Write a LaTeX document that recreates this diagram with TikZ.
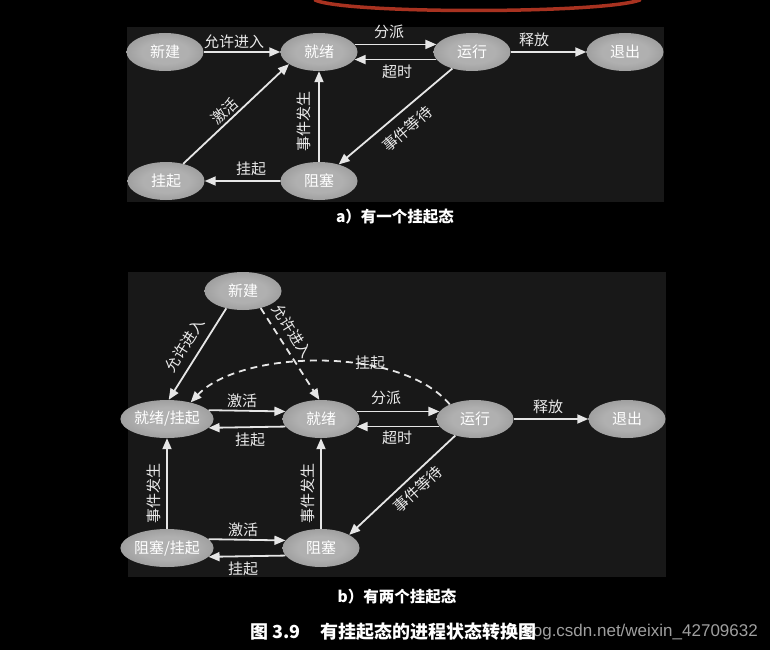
\documentclass[tikz,border=0pt]{standalone}
\usepackage{fontspec}
\newfontfamily\cjk{Noto Sans CJK SC}
\newfontfamily\wmfont{Liberation Sans}
\usetikzlibrary{shapes.geometric,arrows.meta}
\definecolor{shc}{HTML}{B0B0B0}
\definecolor{shm}{HTML}{8E8E8E}
\definecolor{she}{HTML}{3A3A3A}
\definecolor{linecol}{HTML}{E6E6E6}
\definecolor{labcol}{HTML}{EAEAEA}
\definecolor{panelcol}{HTML}{181818}
\definecolor{redmark}{HTML}{A83220}
\pgfdeclareradialshading{nodeshade}{\pgfpoint{0bp}{0bp}}{color(0bp)=(shc); color(15bp)=(shc); color(36bp)=(shm); color(50bp)=(she); color(60bp)=(she)}
\tikzset{
  st/.style={ellipse, minimum width=77pt, minimum height=38pt, inner sep=0pt, shade, shading=nodeshade, text=white, font=\cjk\fontsize{15}{15}\selectfont},
  tr/.style={draw=linecol, line width=1.8pt, -{Triangle[length=11pt,width=9pt]}},
  lb/.style={text=labcol, font=\cjk\fontsize{15}{15}\selectfont, inner sep=0pt},
  captext/.style={text=white, font=\cjk\bfseries\fontsize{15.5}{15.5}\selectfont, inner sep=0pt},
  dsh/.style={dash pattern=on 7pt off 5pt}
}
\begin{document}
\begin{tikzpicture}[x=1pt,y=-1pt]
\fill[black] (0,0) rectangle (770,650);
\useasboundingbox (0,0) rectangle (770,650);
% red hand-drawn mark at the top
\draw[redmark, line width=3.5pt, line cap=round] (315,0) .. controls (345,14) and (600,14) .. (640,0);
% panel backgrounds
\fill[panelcol] (127,27) rectangle (664,202);
\fill[panelcol] (128,272) rectangle (666,577);

% ---------- panel a ----------
\node[st] (a1) at (165,52) {新建};
\node[st] (a2) at (319,52) {就绪};
\node[st] (a3) at (472,52) {运行};
\node[st] (a4) at (625,52) {退出};
\node[st] (a5) at (166,181) {挂起};
\node[st] (a6) at (319,181) {阻塞};

\draw[tr] (a1) -- (a2);
\draw[tr] (a2.12) -- (a3.168);
\draw[tr] (a3.192) -- (a2.-12);
\draw[tr] (a3) -- (a4);
\draw[tr] (a3.220) -- (a6.40);
\draw[tr] (a6) -- (a2);
\draw[tr] (a6) -- (a5);
\draw[tr] (a5.45) -- (a2.202);

\node[lb] (la1) at (234,42) {允许进入};
\node[lb] (la2) at (389,32) {分派};
\node[lb] (la3) at (397,72) {超时};
\node[lb] (la4) at (534,40) {释放};
\node[lb, rotate=43] (la5) at (225,111) {激活};
\node[lb, rotate=90] (la6) at (304,121) {事件发生};
\node[lb, rotate=41] (la7) at (407,129) {事件等待};
\node[lb] (la8) at (251,169) {挂起};

\node[captext] (capa) at (395,217) {a）有一个挂起态};

% ---------- panel b ----------
\node[st] (b1) at (243,291) {新建};
\node[st] (b2) at (167,419) {就绪/挂起};
\node[st] (b3) at (321,419) {就绪};
\node[st] (b4) at (475,419) {运行};
\node[st] (b5) at (627,419) {退出};
\node[st] (b6) at (167,548) {阻塞/挂起};
\node[st] (b7) at (321,548) {阻塞};

\draw[tr] (b1.226) -- (b2.85);
\draw[tr,dsh] (b1.-44) -- (b3.95);
\draw[tr,dsh] (b4.150) .. controls (400,345) and (240,350) .. (b2.35);
\draw[tr] (b2.12) -- (b3.168);
\draw[tr] (b3.192) -- (b2.-12);
\draw[tr] (b3.12) -- (b4.168);
\draw[tr] (b4.192) -- (b3.-12);
\draw[tr] (b4) -- (b5);
\draw[tr] (b4.220) -- (b7.25);
\draw[tr] (b6) -- (b2);
\draw[tr] (b7) -- (b3);
\draw[tr] (b6.12) -- (b7.168);
\draw[tr] (b7.192) -- (b6.-12);

\node[lb, rotate=58] (lb1) at (185,345) {允许进入};
\node[lb, rotate=-58] (lb2) at (292,331) {允许进入};
\node[lb] (lb3) at (370,363) {挂起};
\node[lb] (lb4) at (242,401) {激活};
\node[lb] (lb5) at (250,440) {挂起};
\node[lb] (lb6) at (386,398) {分派};
\node[lb] (lb7) at (397,438) {超时};
\node[lb] (lb8) at (548,407) {释放};
\node[lb, rotate=42] (lb9) at (418,489) {事件等待};
\node[lb, rotate=90] (lb10) at (154,493) {事件发生};
\node[lb, rotate=90] (lb11) at (308,493) {事件发生};
\node[lb] (lb12) at (243,530) {激活};
\node[lb] (lb13) at (243,569) {挂起};

\node[captext] (capb) at (397,597) {b）有两个挂起态};

% ---------- figure caption and watermark ----------
\node[text=gray!75, font=\wmfont\fontsize{17}{17}\selectfont, inner sep=0pt, anchor=east] (wm) at (758,632) {blog.csdn.net/weixin\_42709632};
\node[text=white, font=\cjk\bfseries\fontsize{18}{18}\selectfont, inner sep=0pt, anchor=west] (capm) at (250,632) {图 3.9\hspace{1.1em}有挂起态的进程状态转换图};
\end{tikzpicture}
\end{document}
